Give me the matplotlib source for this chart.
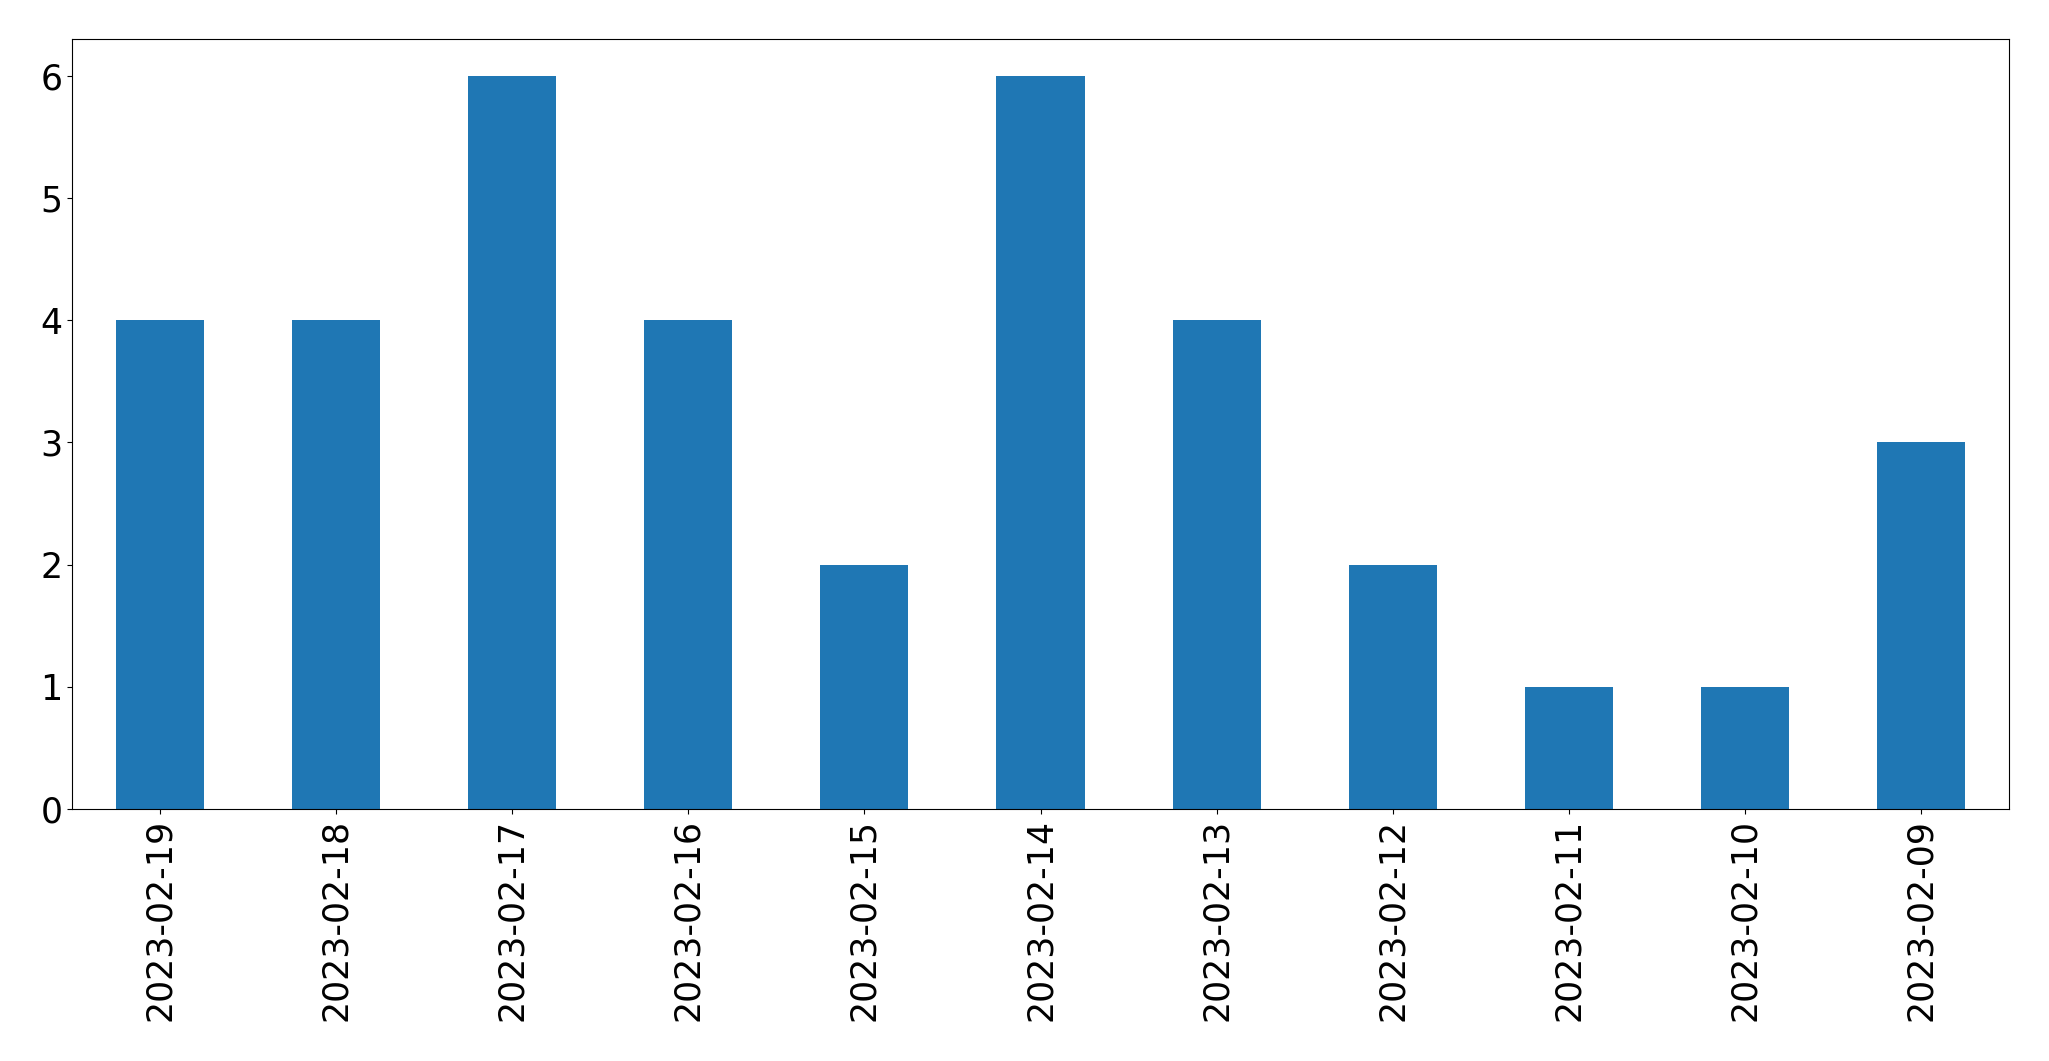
import numpy as np
import matplotlib
matplotlib.use("Agg")
import matplotlib.pyplot as plt

# Fechas y conteos (en el orden del grafico)
fechas = ["2023-02-19", "2023-02-18", "2023-02-17", "2023-02-16", "2023-02-15",
          "2023-02-14", "2023-02-13", "2023-02-12", "2023-02-11", "2023-02-10",
          "2023-02-09"]
conteos = [4, 4, 6, 4, 2, 6, 4, 2, 1, 1, 3]

fig = plt.figure(figsize=(20.49, 10.61), dpi=100)
ax = fig.add_axes([72 / 2049, 1 - 809 / 1061, (2009 - 72) / 2049, (809 - 39) / 1061])

x = np.arange(len(fechas))
ax.bar(x, conteos, width=0.5, color="#1f77b4")
ax.set_xlim(-0.5, len(fechas) - 0.5)
ax.set_xticks(x)
ax.set_xticklabels(fechas, rotation=90)
ax.tick_params(axis="both", labelsize=25)

fig.savefig("out.png", dpi=100)
